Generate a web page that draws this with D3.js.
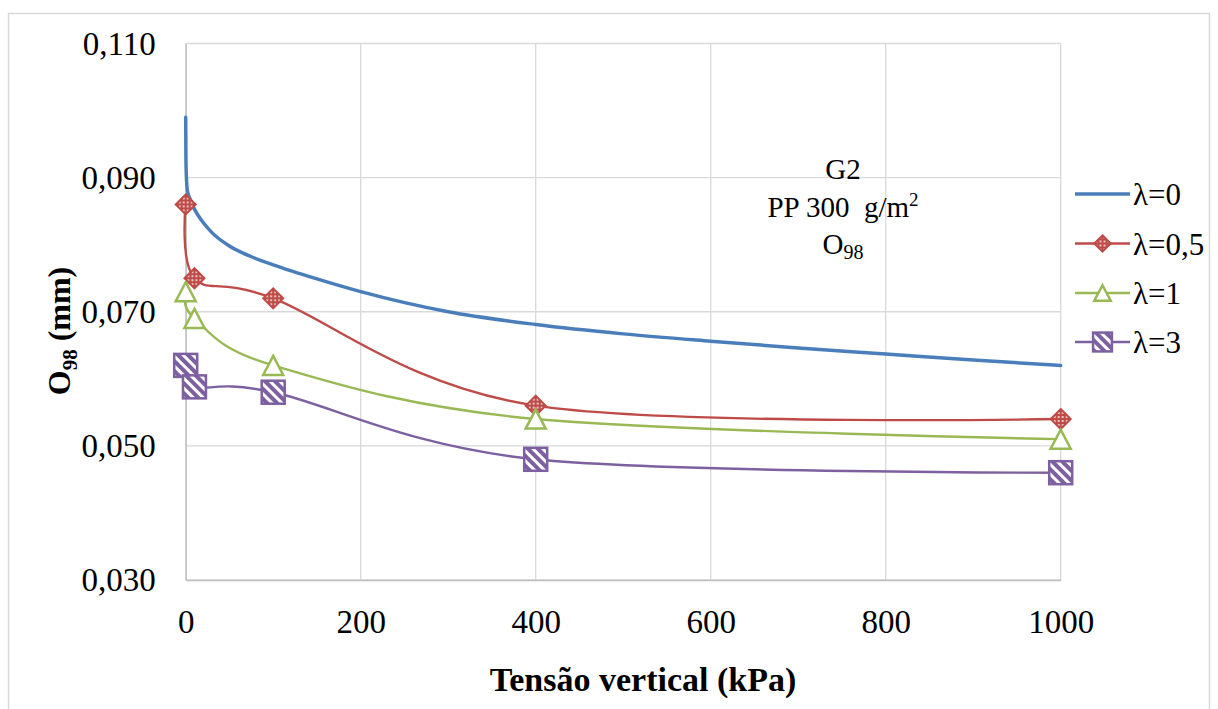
<!DOCTYPE html>
<html><head><meta charset="utf-8">
<script src="https://cdn.jsdelivr.net/npm/d3@7"></script>
<style>body{margin:0;background:#fff}</style>
</head><body>
<svg id="chart" width="1218" height="709"></svg>
<script>
// Vertical stress (kPa) at which each marked series was measured
const pressures = [0, 10, 100, 400, 1000];
const lambda05 = [0.086, 0.075, 0.072, 0.056, 0.054];
const lambda1  = [0.073, 0.069, 0.062, 0.054, 0.051];
const lambda3  = [0.062, 0.0588, 0.058, 0.048, 0.046];
// Continuous curve for λ=0
const curvePressures = [0, 0.25, 1, 2, 5, 10, 20, 30, 50, 75, 100, 150, 200, 300, 400, 500, 600, 700, 800, 900, 1000];
const lambda0 = [0.099, 0.093, 0.0895, 0.088, 0.0868, 0.0853, 0.0833, 0.0818, 0.0798, 0.0782, 0.0770, 0.0749, 0.0730, 0.0700, 0.0681, 0.0667, 0.0656, 0.0646, 0.0637, 0.0628, 0.0620];
const xTicks = [0, 200, 400, 600, 800, 1000];
const yTicks = [0.030, 0.050, 0.070, 0.090, 0.110];
const seriesNames = ["λ=0", "λ=0,5", "λ=1", "λ=3"];
const noteLines = ["G2", "PP 300  g/m", "O"];

const colors = {blue: "#4a7ebb", red: "#be4b48", green: "#98b954", purple: "#7d60a0"};
const serif = "'Liberation Serif','Times New Roman',serif";

const svg = d3.select("#chart");
const x = d3.scaleLinear().domain([0, 1000]).range([185.7, 1060.7]);
const y = d3.scaleLinear().domain([0.030, 0.110]).range([580, 43.5]);
const fmt = d3.formatLocale({decimal: ",", thousands: ".", grouping: [3], currency: ["", ""]}).format(".3f");

// patterns for the marker fills
const defs = svg.append("defs");
const dots = defs.append("pattern").attr("id", "dots").attr("patternUnits", "userSpaceOnUse")
  .attr("width", 4).attr("height", 4);
dots.append("rect").attr("width", 4).attr("height", 4).attr("fill", colors.red);
dots.append("circle").attr("cx", 2).attr("cy", 2).attr("r", 0.9).attr("fill", "#fff");
const stripes = defs.append("pattern").attr("id", "stripes").attr("patternUnits", "userSpaceOnUse")
  .attr("width", 7).attr("height", 7).attr("patternTransform", "rotate(-45)");
stripes.append("rect").attr("width", 7).attr("height", 7).attr("fill", "#fff");
stripes.append("rect").attr("width", 4).attr("height", 7).attr("fill", colors.purple);

// chart frame
svg.append("rect").attr("x", 8.5).attr("y", 13.5).attr("width", 1201).attr("height", 720)
  .attr("fill", "#fff").attr("stroke", "#d9d9d9").attr("stroke-width", 1.5);

// gridlines
svg.append("g").selectAll("line.h").data(yTicks).join("line")
  .attr("x1", x(0)).attr("x2", x(1000)).attr("y1", d => y(d)).attr("y2", d => y(d))
  .attr("stroke", "#d9d9d9").attr("stroke-width", 1.3);
svg.append("g").selectAll("line.v").data(xTicks).join("line")
  .attr("x1", d => x(d)).attr("x2", d => x(d)).attr("y1", y(0.110)).attr("y2", y(0.030))
  .attr("stroke", "#d9d9d9").attr("stroke-width", 1.3);

// axes
const xAxis = svg.append("g").attr("transform", `translate(0,${y(0.030)})`)
  .call(d3.axisBottom(x).tickValues(xTicks).tickSize(0).tickPadding(30).tickFormat(d3.format("d")));
const yAxis = svg.append("g").attr("transform", `translate(${x(0)},0)`)
  .call(d3.axisLeft(y).tickValues(yTicks).tickSize(0).tickPadding(30).tickFormat(fmt));
[xAxis, yAxis].forEach(g => {
  g.select(".domain").attr("stroke", "#bfbfbf").attr("stroke-width", 1.3);
  g.selectAll("text").attr("font-family", serif).attr("font-size", 33).attr("fill", "#000");
});

// axis titles
svg.append("text").attr("x", 643).attr("y", 691).attr("text-anchor", "middle")
  .attr("font-family", serif).attr("font-weight", "bold").attr("font-size", 34)
  .text("Tensão vertical (kPa)");
const yTitle = svg.append("text").attr("transform", "translate(70,331) rotate(-90)")
  .attr("text-anchor", "middle").attr("font-family", serif).attr("font-weight", "bold").attr("font-size", 32);
yTitle.append("tspan").text("O");
yTitle.append("tspan").attr("font-size", 21).attr("dy", 7).text("98");
yTitle.append("tspan").attr("dy", -7).text(" (mm)");

// annotation
const note = svg.append("g").attr("font-family", serif).attr("font-size", 29).attr("text-anchor", "middle");
note.append("text").attr("x", 843).attr("y", 179).text(noteLines[0]);
const l2 = note.append("text").attr("x", 843).attr("y", 217).attr("xml:space", "preserve");
l2.append("tspan").text(noteLines[1]);
l2.append("tspan").attr("font-size", 19).attr("dy", -11).text("2");
const l3 = note.append("text").attr("x", 843).attr("y", 254);
l3.append("tspan").text(noteLines[2]);
l3.append("tspan").attr("font-size", 20).attr("dy", 5).text("98");

// series: smooth cardinal curves through the measured points, monotone for the dense λ=0 curve
const smoothLine = d3.line().x(d => x(d[0])).y(d => y(d[1])).curve(d3.curveCardinal.tension(0));
const denseLine = d3.line().x(d => x(d[0])).y(d => y(d[1])).curve(d3.curveMonotoneX);
const series = [
  {name: seriesNames[0], color: colors.blue, width: 3.5, xs: curvePressures, ys: lambda0, marker: null},
  {name: seriesNames[1], color: colors.red, width: 2.4, xs: pressures, ys: lambda05, marker: "diamond"},
  {name: seriesNames[2], color: colors.green, width: 2.4, xs: pressures, ys: lambda1, marker: "triangle"},
  {name: seriesNames[3], color: colors.purple, width: 2.4, xs: pressures, ys: lambda3, marker: "square"}
];

function drawMarker(g, type, s) {
  if (type === "diamond") {
    g.append("path").attr("d", `M0,${-10*s}L${10*s},0L0,${10*s}L${-10*s},0Z`)
      .attr("fill", "url(#dots)").attr("stroke", colors.red).attr("stroke-width", 2);
  } else if (type === "triangle") {
    g.append("path").attr("d", `M0,${-9.5*s}L${10*s},${9.5*s}L${-10*s},${9.5*s}Z`)
      .attr("fill", "#fff").attr("stroke", colors.green).attr("stroke-width", 2.5);
  } else if (type === "square") {
    g.append("rect").attr("x", -11.5*s).attr("y", -11.5*s).attr("width", 23*s).attr("height", 23*s)
      .attr("fill", "url(#stripes)").attr("stroke", colors.purple).attr("stroke-width", 2.5);
  }
}

series.forEach(sr => {
  const pts = sr.xs.map((v, i) => [v, sr.ys[i]]);
  svg.append("path").datum(pts).attr("d", sr.marker ? smoothLine : denseLine).attr("fill", "none")
    .attr("stroke", sr.color).attr("stroke-width", sr.width).attr("stroke-linecap", "round");
  if (sr.marker) {
    pts.forEach(p => {
      const g = svg.append("g").attr("transform", `translate(${x(p[0])},${y(p[1])})`);
      drawMarker(g, sr.marker, 1);
    });
  }
});

// legend
const legendRows = [194, 243.5, 293, 342];
series.forEach((sr, i) => {
  const ly = legendRows[i];
  svg.append("line").attr("x1", 1075).attr("x2", 1130).attr("y1", ly).attr("y2", ly)
    .attr("stroke", sr.color).attr("stroke-width", sr.width);
  if (sr.marker) {
    const g = svg.append("g").attr("transform", `translate(1102.5,${ly})`);
    drawMarker(g, sr.marker, 0.82);
  }
  svg.append("text").attr("x", 1133).attr("y", ly).attr("dy", "0.36em")
    .attr("font-family", serif).attr("font-size", 31).text(sr.name);
});
</script>
</body></html>
